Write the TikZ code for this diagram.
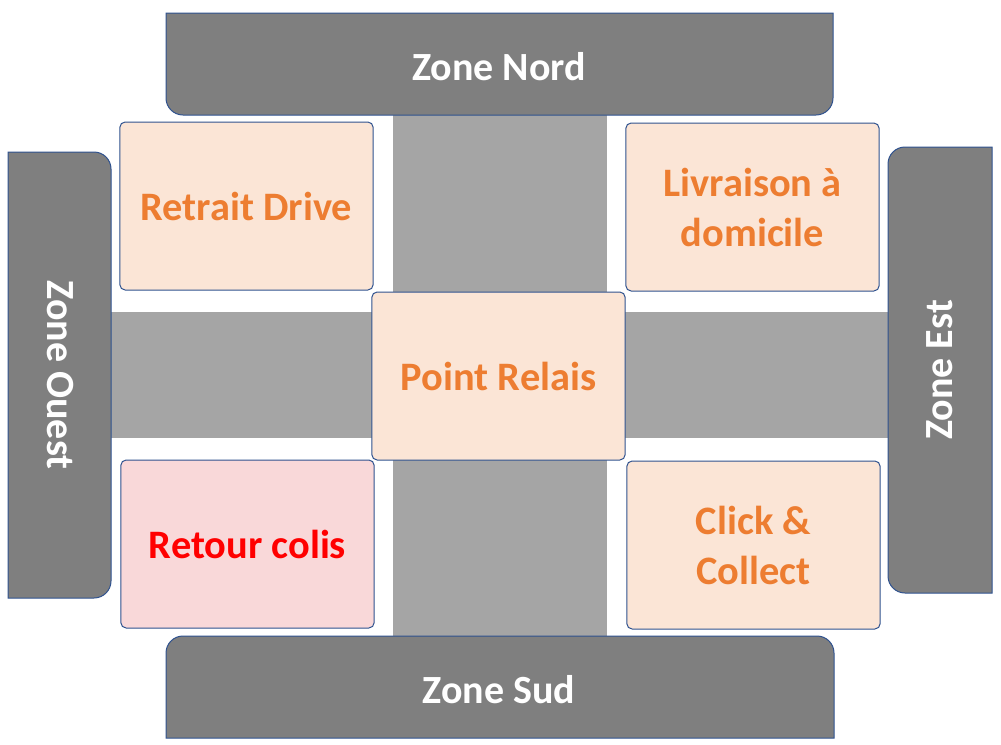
\documentclass[tikz,border=0pt]{standalone}
\usepackage{fontspec}
\setmainfont{Carlito}
\definecolor{zonegray}{HTML}{7F7F7F}
\definecolor{roadgray}{HTML}{A5A5A5}
\definecolor{peach}{HTML}{FBE5D6}
\definecolor{rose}{HTML}{F9D8D9}
\definecolor{darkorange}{HTML}{ED7D31}
\definecolor{edgeblue}{HTML}{2F528F}
\begin{document}
\begin{tikzpicture}[x=.75pt,y=-.75pt,line width=.75pt,
  zone/.style={draw=edgeblue,fill=zonegray},
  road/.style={fill=roadgray},
  zonetext/.style={text=white,font=\fontsize{30}{36}\selectfont\bfseries},
  service/.style={draw=edgeblue,fill=peach,rounded corners=4pt,minimum width=190pt,minimum height=126pt,align=center,text=darkorange,font=\fontsize{30.3}{37.5}\selectfont\bfseries}]
\useasboundingbox (0,0) rectangle (1001,744);
% roads
\fill[road] (393,115) rectangle (607,636);
\fill[road] (111,312) rectangle (888,438);
% zones
\draw[zone] (166,13)--(833,13)--(833,98) arc[start angle=0,end angle=90,radius=17]
  --(183,115) arc[start angle=90,end angle=180,radius=17]--cycle;
\draw[zone] (8,152)--(94,152) arc[start angle=-90,end angle=0,radius=17]
  --(111,581) arc[start angle=0,end angle=90,radius=17]--(8,598)--cycle;
\draw[zone] (992,147)--(992,593)--(905,593) arc[start angle=90,end angle=180,radius=17]
  --(888,164) arc[start angle=180,end angle=270,radius=17]--cycle;
\draw[zone] (166,738)--(166,653) arc[start angle=180,end angle=270,radius=17]
  --(817,636) arc[start angle=270,end angle=360,radius=17]--(834,738)--cycle;
\node[zonetext] (nord) at (499,67) {Zone Nord};
\node[zonetext] (sud) at (499,690) {Zone Sud};
\node[zonetext,rotate=-90] (ouest) at (60,375) {Zone Ouest};
\node[zonetext,rotate=90] (est) at (940,370) {Zone Est};
% services
\node[service] (drive) at (246.5,206) {Retrait Drive};
\node[service] (livraison) at (752.5,207) {Livraison à\\domicile};
\node[service] (relais) at (498.5,376) {Point Relais};
\node[service,fill=rose,text=red] (retour) at (247.5,544) {Retour colis};
\node[service] (click) at (753.5,545) {Click \&\\Collect};
\end{tikzpicture}
\end{document}
